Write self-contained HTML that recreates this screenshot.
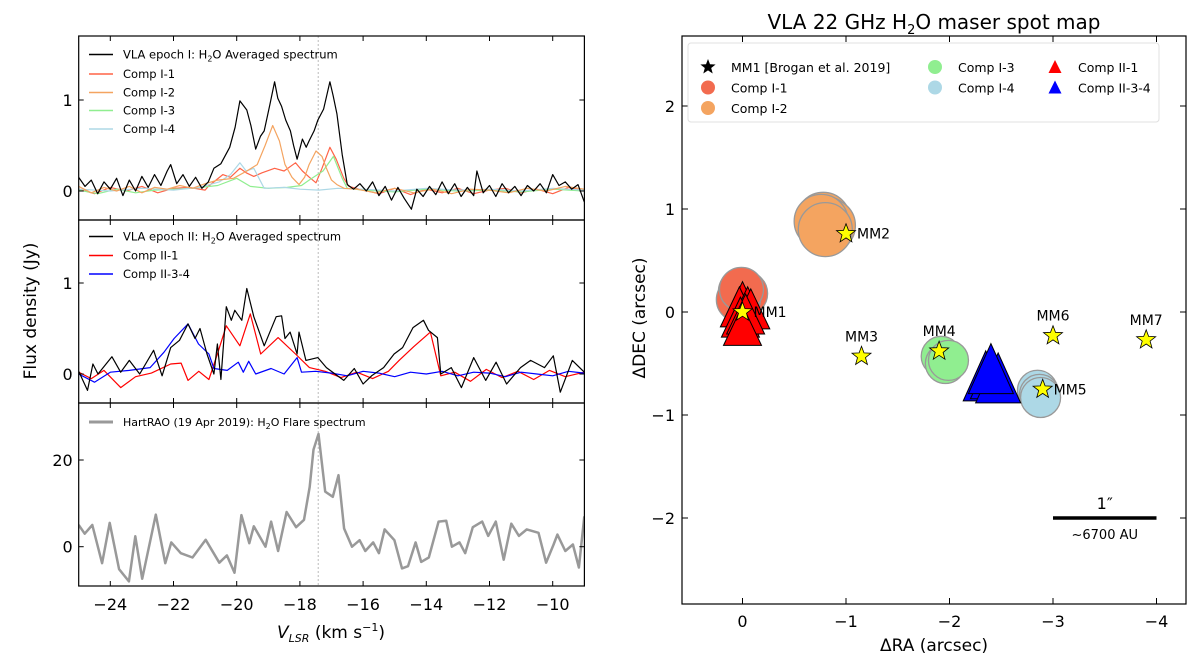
<!DOCTYPE html>
<html><head><meta charset="utf-8"><style>
body{margin:0;background:#fff;}
svg{display:block;font-family:"DejaVu Sans","Liberation Sans",sans-serif;}
</style></head><body>
<svg id="fig" width="1200" height="657" viewBox="0 0 1200 657" xmlns="http://www.w3.org/2000/svg">
<defs>
<clipPath id="c1"><rect x="78.7" y="36" width="505.7" height="184"/></clipPath>
<clipPath id="c2"><rect x="78.7" y="220" width="505.7" height="183"/></clipPath>
<clipPath id="c3"><rect x="78.7" y="403" width="505.7" height="183"/></clipPath>
<clipPath id="cr"><rect x="682" y="36" width="504" height="568"/></clipPath>
</defs>
<g id="left"></g>
<g id="right"></g>
</svg>
<script>
// ---------- Panel 1 data (VLA epoch I) ----------
const v1Black=[-25,-24.8,-24.6,-24.4,-24.2,-24,-23.8,-23.6,-23.4,-23.2,-23,-22.8,-22.6,-22.4,-22.2,-22.09,-21.9,-21.7,-21.5,-21.3,-21.1,-20.9,-20.72,-20.5,-20.22,-20.05,-19.9,-19.68,-19.55,-19.4,-19.25,-19.13,-18.95,-18.8,-18.7,-18.58,-18.45,-18.3,-18.2,-18.09,-17.92,-17.8,-17.71,-17.55,-17.43,-17.25,-17.05,-16.95,-16.83,-16.66,-16.5,-16.3,-16.1,-15.9,-15.7,-15.5,-15.3,-15.1,-14.9,-14.7,-14.47,-14.3,-14.1,-13.9,-13.7,-13.5,-13.3,-13.1,-12.9,-12.7,-12.5,-12.4,-12.2,-12,-11.8,-11.6,-11.4,-11.2,-11,-10.8,-10.6,-10.4,-10.2,-10,-9.8,-9.6,-9.4,-9.2,-9];
const f1Black=[0.15,0.05,0.12,-0.03,0.1,0.02,0.14,-0.05,0.12,0,0.16,0.04,0.18,0.06,0.22,0.29,0.08,0.18,0.05,0.15,0.03,0.1,0.25,0.3,0.48,0.7,0.99,0.89,0.72,0.46,0.6,0.66,0.95,1.2,1.02,0.93,0.78,0.66,0.5,0.35,0.57,0.48,0.55,0.66,0.78,0.9,1.2,1.05,0.85,0.4,0.07,0.02,0.08,0,0.1,-0.05,0.05,-0.1,0.04,-0.08,-0.2,0.02,-0.06,0.05,-0.04,0.1,-0.03,0.08,-0.06,0.04,-0.05,0.22,-0.02,0.06,-0.06,0.08,-0.02,0.05,-0.05,0.06,0,0.08,-0.02,0.18,0.06,0.1,0.02,0.07,-0.12];
const v1C1=[-25,-24.5,-24,-23.5,-23,-22.5,-22,-21.5,-21,-20.9,-20.44,-20.2,-19.9,-19.7,-19.46,-19.2,-18.8,-18.5,-18.14,-17.92,-17.7,-17.49,-17.3,-17.05,-16.85,-16.61,-16.45,-16,-15.5,-15,-14.5,-14,-13.5,-13,-12.5,-12,-11.5,-11,-10.5,-10,-9.5,-9];
const f1C1=[0.02,-0.03,0.04,0,0.05,-0.02,0.03,0.04,0.01,0.05,0.18,0.15,0.25,0.2,0.16,0.2,0.25,0.22,0.31,0.22,0.15,0.09,0.25,0.48,0.35,0.14,0.05,0.01,-0.03,0.03,-0.04,0.02,-0.02,0.03,-0.03,0.01,0.03,-0.02,0.02,-0.03,0.04,0];
const v1C2=[-25,-24.6,-24.2,-23.8,-23.4,-23,-22.6,-22.2,-21.8,-21.4,-21,-20.6,-20.1,-19.68,-19.35,-19.1,-18.86,-18.65,-18.47,-18.25,-18.03,-17.85,-17.71,-17.49,-17.3,-17.16,-17,-16.83,-16.6,-16.2,-15.6,-15,-14.4,-13.8,-13.2,-12.6,-12,-11.4,-10.8,-10.2,-9.6,-9];
const f1C2=[0.05,-0.02,0.04,0,0.05,-0.02,0.04,0.02,0.06,0.03,0.08,0.12,0.14,0.22,0.29,0.5,0.72,0.55,0.29,0.15,0.07,0.15,0.29,0.44,0.38,0.25,0.12,0.07,0.03,0.02,-0.02,0.03,-0.02,0.02,-0.03,0.02,0.01,-0.02,0.03,0,0.05,0.02];
const v1C3=[-25,-24.4,-23.8,-23.2,-22.6,-22,-21.4,-20.6,-20,-19.57,-19,-18.4,-17.95,-17.71,-17.27,-16.94,-16.66,-16.5,-16,-15,-14,-13,-12,-11,-10,-9];
const f1C3=[0.01,-0.03,0.02,-0.02,0.01,0.02,0.03,0.06,0.14,0.05,0.03,0.04,0.06,0.12,0.22,0.38,0.14,0.03,0.01,-0.01,0.02,0,0.01,-0.01,0.02,0];
const v1C4=[-25,-24,-23,-22,-21.2,-20.55,-20.2,-19.9,-19.7,-19.46,-19.13,-18.5,-18,-17.4,-16.8,-16,-15,-14,-13,-12,-11,-10,-9];
const f1C4=[0.02,0,0.03,0.01,0.04,0.1,0.18,0.31,0.22,0.25,0.03,0.04,0.02,0.01,0.03,0.02,0,0.03,0.01,0.02,0,0.03,0.01];

// ---------- Panel 2 data (VLA epoch II) ----------
const v2Black=[-25,-24.72,-24.55,-24.39,-23.95,-23.67,-23.4,-23.07,-22.63,-22.36,-22.09,-21.81,-21.54,-21.32,-21.16,-20.94,-20.72,-20.61,-20.5,-20.33,-20.17,-20.06,-19.84,-19.68,-19.46,-19.13,-18.75,-18.58,-18.47,-18.31,-18.09,-18.03,-17.81,-17.43,-17.16,-16.61,-16.28,-16,-15.73,-15.35,-15.02,-14.75,-14.42,-14.09,-13.93,-13.65,-13.54,-13.21,-12.89,-12.5,-12.12,-11.79,-11.46,-11.02,-10.7,-10.26,-9.98,-9.76,-9.38,-9];
const f2Black=[0.03,-0.18,0.11,0,0.19,0.02,0.15,0,0.26,-0.02,0.29,0.37,0.55,0.39,0.5,0.22,0,0.33,-0.06,0.74,0.59,0.7,0.59,0.94,0.63,0.31,0.63,0.64,0.39,0.46,0.22,0.46,0.15,0.18,0.07,-0.07,0.06,-0.11,-0.02,0.07,0.22,0.29,0.51,0.59,0.48,0.4,0,0.07,-0.15,0.18,-0.07,0.13,-0.11,0.07,0.15,0.07,0.2,-0.2,0.15,0.02];
const v2Red=[-25,-24.6,-24.2,-23.67,-23.2,-22.7,-22.09,-21.76,-21.54,-21.2,-20.88,-20.61,-20.33,-19.9,-19.57,-19.24,-18.69,-18.14,-17.7,-17.2,-16.7,-16.2,-15.7,-15.2,-14.86,-14.4,-13.87,-13.54,-13.1,-12.6,-12.1,-11.6,-11.1,-10.6,-10.1,-9.6,-9];
const f2Red=[0.02,-0.05,0.04,-0.15,-0.03,0.01,0.11,0.12,-0.07,0.03,-0.06,0.22,0.53,0.31,0.66,0.22,0.4,0.22,0.07,0.03,-0.04,0.02,-0.05,0.03,0.15,0.3,0.46,-0.02,0.02,-0.08,0.05,-0.04,0.03,-0.06,0.04,-0.03,0.02];
const v2Blue=[-25,-24.5,-24,-23.4,-22.74,-22.3,-21.98,-21.54,-21.21,-20.88,-20.72,-20.3,-19.95,-19.79,-19.62,-19.4,-18.91,-18.5,-18.09,-17.95,-17.5,-17,-16.5,-16,-15.5,-15,-14.5,-14,-13.5,-13,-12.5,-12,-11.5,-11,-10.5,-10,-9.5,-9];
const f2Blue=[0,-0.09,0.02,0.04,0.07,0.24,0.39,0.55,0.33,0.22,0.06,0.04,0.13,0.02,0.14,0,0.06,0,0.18,0.02,0.03,0.01,-0.02,0.03,0.01,-0.03,0.02,0,0.03,-0.02,0.02,0.01,-0.03,0.02,0,-0.02,0.03,0.01];

// ---------- Panel 3 data (HartRAO flare) ----------
const v3=[-25,-24.81,-24.57,-24.26,-24.02,-23.72,-23.41,-23.21,-22.99,-22.56,-22.26,-22.07,-21.77,-21.4,-20.98,-20.55,-20.31,-20.07,-19.85,-19.6,-19.46,-19.09,-18.91,-18.69,-18.42,-18.12,-17.87,-17.69,-17.57,-17.41,-17.2,-16.96,-16.78,-16.6,-16.35,-16.11,-15.93,-15.68,-15.5,-15.32,-15.01,-14.77,-14.58,-14.34,-14.16,-13.92,-13.61,-13.37,-13.19,-12.95,-12.77,-12.53,-12.23,-12.04,-11.8,-11.55,-11.31,-11.07,-10.82,-10.45,-10.21,-9.97,-9.85,-9.6,-9.36,-9.17,-9];
const f3=[5,3,5,-3.8,5.5,-5.2,-8,2.4,-7.4,7.4,-3.8,1,-1.5,-2.5,1.6,-3.7,-2,-6,7.3,0.8,4.7,0,5.8,-1,8,4.5,6.2,13.8,22.4,26,12.7,11.5,16.5,4.2,0,1.5,-1,1,-1.5,4,1.5,-5,-4.5,1,-3.5,-2.5,5.8,6,0,1,-1.5,4.5,5.8,2.5,5.8,-3,5.3,2.5,4,3.2,-3.7,0.5,2.8,-1,0.5,-4.8,7];
const xTicksL=[-24,-22,-20,-18,-16,-14,-12,-10];
const flareV=-17.42;

// ---------- Right panel data (spot map) ----------
const ra_I1=[0.02,0.0,-0.03,0.04,0.01], dec_I1=[0.2,0.15,0.18,0.12,0.22];
const ra_I2=[-0.78,-0.8,-0.83,-0.76,-0.8], dec_I2=[0.9,0.86,0.84,0.88,0.8];
const ra_I3=[-1.92,-1.96,-1.99], dec_I3=[-0.43,-0.5,-0.47];
const ra_I4=[-2.85,-2.87,-2.88], dec_I4=[-0.76,-0.8,-0.83];
const ra_II1=[0.0,0.03,-0.05,-0.08,0.02,-0.03,0.0], dec_II1=[0.1,0.05,0.05,0.03,-0.05,-0.02,-0.13];
const ra_II34=[-2.35,-2.42,-2.47,-2.4], dec_II34=[-0.62,-0.6,-0.64,-0.55];
const mmNames=["MM1","MM2","MM3","MM4","MM5","MM6","MM7"];
const mmRA=[0,-1.0,-1.15,-1.9,-2.9,-3.0,-3.9];
const mmDEC=[0,0.76,-0.43,-0.38,-0.75,-0.23,-0.27];
const xTicksR=[0,-1,-2,-3,-4], yTicksR=[-2,-1,0,1,2];

const NS="http://www.w3.org/2000/svg";
function mk(tag,attrs,parent){const e=document.createElementNS(NS,tag);for(const k in attrs)e.setAttribute(k,attrs[k]);parent.appendChild(e);return e;}
function txt(s,attrs,parent){const e=mk('text',attrs,parent);e.textContent=s;return e;}
const L=document.getElementById('left'), R=document.getElementById('right');

const XL0=78.7, XL1=584.4;
const xL=v=>XL0+(v+25)*31.6;
const panels=[
 {top:36,bot:220,y:val=>191-91*val,ticks:[0,1],clip:'c1'},
 {top:220,bot:403,y:val=>374-91*val,ticks:[0,1],clip:'c2'},
 {top:403,bot:586,y:val=>546.7-4.335*val,ticks:[0,20],clip:'c3'}];
function line(vs,fs,p,color,w,name,parent){
  let d='';vs.forEach((v,i)=>{d+=(i?'L':'M')+xL(v).toFixed(1)+' '+p.y(fs[i]).toFixed(1);});
  const e=mk('path',{d:d,fill:'none',stroke:color,'stroke-width':w,'stroke-linejoin':'round','clip-path':'url(#'+p.clip+')'},parent);
  
  
}
panels.forEach((p,i)=>{
  const e=mk('line',{x1:xL(flareV),x2:xL(flareV),y1:p.top,y2:p.bot,stroke:'#bbb','stroke-width':1,'stroke-dasharray':'2,2'},L);
  
  
});
line(v1C1,f1C1,panels[0],'#ff6347',1.2,'comp-i-1-line',L);
line(v1C3,f1C3,panels[0],'#90ee90',1.2,'comp-i-3-line',L);
line(v1C4,f1C4,panels[0],'#add8e6',1.2,'comp-i-4-line',L);
line(v1C2,f1C2,panels[0],'#f4a460',1.2,'comp-i-2-line',L);
line(v1Black,f1Black,panels[0],'#000',1.2,'epoch-i-spectrum',L);
line(v2Red,f2Red,panels[1],'#ff0000',1.2,'comp-ii-1-line',L);
line(v2Blue,f2Blue,panels[1],'#0000ff',1.2,'comp-ii-3-4-line',L);
line(v2Black,f2Black,panels[1],'#000',1.2,'epoch-ii-spectrum',L);
line(v3,f3,panels[2],'#999',2.5,'hartrao-flare-spectrum',L);

panels.forEach((p,i)=>{
  const r=mk('rect',{x:XL0,y:p.top,width:XL1-XL0,height:p.bot-p.top,fill:'none',stroke:'#000','stroke-width':1.2},L);
  
  
  xTicksL.forEach(t=>{
    mk('line',{x1:xL(t),x2:xL(t),y1:p.bot,y2:p.bot-5,stroke:'#000'},L);
    mk('line',{x1:xL(t),x2:xL(t),y1:p.top,y2:p.top+5,stroke:'#000'},L);
  });
  p.ticks.forEach(t=>{
    const y=p.y(t);
    mk('line',{x1:XL0,x2:XL0+5,y1:y,y2:y,stroke:'#000'},L);
    mk('line',{x1:XL1,x2:XL1-5,y1:y,y2:y,stroke:'#000'},L);
    const tl=txt(String(t),{x:XL0-6,y:y+6,'text-anchor':'end','font-size':16},L);
    
    
  });
});
xTicksL.forEach(t=>{
  const tl=txt('\u2212'+Math.abs(t),{x:xL(t),y:610,'text-anchor':'middle','font-size':16},L);
  
  
});
function legLine(x,y,color,w,label,name,fs){
  const g=mk('g',{},L);
  
  
  mk('line',{x1:x,x2:x+24,y1:y,y2:y,stroke:color,'stroke-width':w},g);
  const t=txt('',{x:x+34,y:y+4,'font-size':fs||11.5},g);
  t.innerHTML=label;
}
legLine(89,54.5,'#000',1.5,'VLA epoch I: H<tspan font-size="8" dy="3">2</tspan><tspan dy="-3">O Averaged spectrum</tspan>','legend-epoch-i');
legLine(89,74,'#ff6347',1.5,'Comp I-1','legend-comp-i-1');
legLine(89,92.5,'#f4a460',1.5,'Comp I-2','legend-comp-i-2');
legLine(89,110.5,'#90ee90',1.5,'Comp I-3','legend-comp-i-3');
legLine(89,129,'#add8e6',1.5,'Comp I-4','legend-comp-i-4');
legLine(89,236.5,'#000',1.5,'VLA epoch II: H<tspan font-size="8" dy="3">2</tspan><tspan dy="-3">O Averaged spectrum</tspan>','legend-epoch-ii');
legLine(89,255.5,'#ff0000',1.5,'Comp II-1','legend-comp-ii-1');
legLine(89,274,'#0000ff',1.5,'Comp II-3-4','legend-comp-ii-3-4');
legLine(89,422,'#999',3,'HartRAO (19 Apr 2019): H<tspan font-size="8" dy="3">2</tspan><tspan dy="-3">O Flare spectrum</tspan>','legend-hartrao',11);
let t=txt('',{x:331,y:638,'text-anchor':'middle','font-size':17},L);
t.innerHTML='<tspan font-style="italic">V</tspan><tspan font-style="italic" font-size="11" dy="4">LSR</tspan><tspan dy="-4"> (km s</tspan><tspan font-size="11" dy="-7">\u22121</tspan><tspan dy="7">)</tspan>';


t=txt('Flux density (Jy)',{x:0,y:0,'text-anchor':'middle','font-size':17,transform:'translate(36,311) rotate(-90)'},L);



// ---------- right panel ----------
const XR0=682, XR1=1186, YR0=36, YR1=604;
const xR=ra=>742.5-103.5*ra, yR=d=>312-103*d;
t=txt('',{x:934,y:29,'text-anchor':'middle','font-size':20},R);
t.innerHTML='VLA 22 GHz H<tspan font-size="13" dy="5">2</tspan><tspan dy="-5">O maser spot map</tspan>';


const PG=mk('g',{'clip-path':'url(#cr)'},R);
function circles(ras,decs,fill,r,name){
  ras.forEach((ra,i)=>{const c=mk('circle',{cx:xR(ra),cy:yR(decs[i]),r:r,fill:fill,stroke:'#999','stroke-width':1.3},PG);
    
    });
}
function tris(ras,decs,fill,w,h,name){
  ras.forEach((ra,i)=>{const x=xR(ra),y=yR(decs[i]);
    const p=mk('polygon',{points:`${x},${y-h/2} ${x-w/2},${y+h/2} ${x+w/2},${y+h/2}`,fill:fill,stroke:'#000','stroke-width':1},PG);
    
    });
}
function starPts(cx,cy,R1){let s='';for(let k=0;k<10;k++){const r=k%2?R1*0.42:R1;const a=-Math.PI/2+k*Math.PI/5;s+=(cx+r*Math.cos(a)).toFixed(1)+','+(cy+r*Math.sin(a)).toFixed(1)+' ';}return s;}
circles(ra_I1,dec_I1,'#f26b4f',22,'comp-i-1-spot');
circles(ra_I2,dec_I2,'#f4a460',27,'comp-i-2-spot');
circles(ra_I3,dec_I3,'#90ee90',20,'comp-i-3-spot');
circles(ra_I4,dec_I4,'#add8e6',20,'comp-i-4-spot');
tris(ra_II1,dec_II1,'#ff0000',38,40,'comp-ii-1-spot');
tris(ra_II34,dec_II34,'#0000ff',45,50,'comp-ii-3-4-spot');
mmNames.forEach((n,i)=>{
  const x=xR(mmRA[i]),y=yR(mmDEC[i]);
  const s=mk('polygon',{points:starPts(x,y,10),fill:'#ffff00',stroke:'#000','stroke-width':0.8},PG);
  
  
  const above=(n==='MM3'||n==='MM4'||n==='MM6'||n==='MM7');
  const l=txt(n,above?{x:x,y:y-15,'text-anchor':'middle','font-size':14}:{x:x+11,y:y+5,'font-size':14},PG);
  
  
});
let sb=mk('line',{x1:xR(-3),x2:xR(-4),y1:yR(-2),y2:yR(-2),stroke:'#000','stroke-width':3.5},R);


t=txt('1\u2033',{x:(xR(-3)+xR(-4))/2,y:yR(-2)-9,'text-anchor':'middle','font-size':16},R);


t=txt('~6700 AU',{x:(xR(-3)+xR(-4))/2,y:yR(-2)+21,'text-anchor':'middle','font-size':13},R);


let fr=mk('rect',{x:XR0,y:YR0,width:XR1-XR0,height:YR1-YR0,fill:'none',stroke:'#000','stroke-width':1.2},R);


xTicksR.forEach(v=>{const x=xR(v);
  mk('line',{x1:x,x2:x,y1:YR1,y2:YR1-6,stroke:'#000'},R);
  mk('line',{x1:x,x2:x,y1:YR0,y2:YR0+6,stroke:'#000'},R);
  const l=txt(v===0?'0':'\u2212'+Math.abs(v),{x:x,y:YR1+23,'text-anchor':'middle','font-size':16},R);
  
  });
yTicksR.forEach(v=>{const y=yR(v);
  mk('line',{x1:XR0,x2:XR0+6,y1:y,y2:y,stroke:'#000'},R);
  mk('line',{x1:XR1,x2:XR1-6,y1:y,y2:y,stroke:'#000'},R);
  const l=txt(v<0?'\u2212'+Math.abs(v):String(v),{x:XR0-7,y:y+6,'text-anchor':'end','font-size':16},R);
  
  });
t=txt('\u0394RA (arcsec)',{x:934,y:651,'text-anchor':'middle','font-size':17},R);


t=txt('\u0394DEC (arcsec)',{x:0,y:0,'text-anchor':'middle','font-size':17,transform:'translate(645,318) rotate(-90)'},R);


const LG=mk('g',{},R);


mk('rect',{x:688,y:43,width:471,height:79,rx:3,fill:'#fff',stroke:'#ddd','stroke-width':1,opacity:0.9},LG);
function legItem(kind,x,y,color,label,name){
  const g=mk('g',{},LG);
  
  
  if(kind==='star')mk('polygon',{points:starPts(x,y,8),fill:'#000'},g);
  else if(kind==='c')mk('circle',{cx:x,cy:y,r:7,fill:color},g);
  else mk('polygon',{points:`${x},${y-7} ${x-6.5},${y+6} ${x+6.5},${y+6}`,fill:color},g);
  txt(label,{x:x+23,y:y+5,'font-size':12.5},g);
}
legItem('star',708,67,'#000','MM1 [Brogan et al. 2019]','legend-mm1');
legItem('c',708,87.5,'#f26b4f','Comp I-1','legend-comp-i-1');
legItem('c',708,108,'#f4a460','Comp I-2','legend-comp-i-2');
legItem('c',935,67,'#90ee90','Comp I-3','legend-comp-i-3');
legItem('c',935,87.5,'#add8e6','Comp I-4','legend-comp-i-4');
legItem('t',1055,67,'#ff0000','Comp II-1','legend-comp-ii-1');
legItem('t',1055,87.5,'#0000ff','Comp II-3-4','legend-comp-ii-3-4');
</script>
</body></html>
